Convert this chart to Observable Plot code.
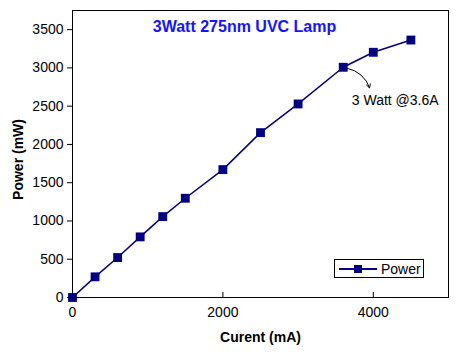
<!DOCTYPE html>
<html>
<head>
<meta charset="utf-8">
<script src="https://cdn.jsdelivr.net/npm/d3@7"></script>
<script src="https://cdn.jsdelivr.net/npm/@observablehq/plot@0.6"></script>
<style>
  html, body { margin: 0; padding: 0; background: #fff; }
  #wrap { position: relative; width: 466px; height: 356px; font-family: "Liberation Sans", Arial, sans-serif; }
  #legend { position: absolute; left: 334px; top: 259px; width: 90px; height: 19px; border: 1px solid #000; background: #fff; box-sizing: border-box; display: flex; align-items: center; font-size: 14px; color: #000; }
  #legend svg { margin-left: 4px; margin-right: 4px; }
</style>
</head>
<body>
<div id="wrap"></div>
<script>
const current = [0, 300, 600, 900, 1200, 1500, 2000, 2500, 3000, 3600, 4000, 4500];
const power   = [0, 270, 522, 792, 1057, 1297, 1671, 2154, 2529, 3008, 3204, 3364];
const xTicks = [0, 2000, 4000];
const yTicks = [0, 500, 1000, 1500, 2000, 2500, 3000, 3500];
const titleText = "3Watt 275nm UVC Lamp";
const xLabel = "Curent (mA)";
const yLabel = "Power (mW)";
const seriesName = "Power";
const noteText = ["3 Watt @3.6A"];
const noteFrom = [{x: 3600, y: 3000}];
const noteTo = [{x: 3950, y: 2740}];

const data = current.map((c, i) => ({current: c, power: power[i]}));
const navy = "#000080";

const chart = Plot.plot({
  width: 466,
  height: 356,
  marginLeft: 72,
  marginRight: 18,
  marginTop: 10,
  marginBottom: 59,
  style: {fontFamily: "Liberation Sans, Arial, sans-serif", fontSize: "14px", color: "#000", background: "#fff"},
  x: {domain: [0, 5000]},
  y: {domain: [0, 3750]},
  marks: [
    Plot.axisX({ticks: xTicks, tickSize: 0, tickPadding: 10, label: null, tickFormat: d => String(d), fontSize: 14}),
    Plot.ruleX(xTicks.filter(d => d > 0), {y1: 0, y2: 3750 * 5 / 287, stroke: "#000"}),
    Plot.axisY({ticks: yTicks, tickSize: 5, tickPadding: 4, label: null, tickFormat: d => String(d), fontSize: 14}),
    Plot.frame({stroke: "#000", strokeWidth: 1}),
    Plot.line(data, {x: "current", y: "power", stroke: navy, strokeWidth: 1.5}),
    Plot.dot(data, {x: "current", y: "power", symbol: "square", r: 5, fill: navy, stroke: "none"}),
    Plot.arrow(noteFrom.map((f, i) => ({x1: f.x, y1: f.y, x2: noteTo[i].x, y2: noteTo[i].y})), {
      x1: "x1", y1: "y1", x2: "x2", y2: "y2", bend: 35, headLength: 6, stroke: "#000", strokeWidth: 1, insetStart: 4
    }),
    Plot.text(noteText, {x: () => noteFrom[0].x, y: () => noteFrom[0].y, text: d => d, dx: 52, dy: 33, fontSize: 14, fill: "#000"}),
    Plot.text([titleText], {frameAnchor: "top", text: d => d, dx: -16, dy: 16.5, lineAnchor: "middle", fontSize: 16, fontWeight: "bold", fill: "#1414ff"}),
    Plot.text([xLabel], {frameAnchor: "bottom", text: d => d, dy: 40, lineAnchor: "middle", fontSize: 14, fontWeight: "bold", fill: "#000", style: "letter-spacing:0.5px"}),
    Plot.text([yLabel], {frameAnchor: "left", text: d => d, dx: -54, dy: 5.5, rotate: -90, textAnchor: "middle", lineAnchor: "middle", fontSize: 14, fontWeight: "bold", fill: "#000", style: "letter-spacing:0.3px"})
  ]
});

const wrap = document.getElementById("wrap");
wrap.appendChild(chart);
const legend = document.createElement("div");
legend.id = "legend";
legend.innerHTML = `<svg width="38" height="10"><line x1="0" y1="5" x2="38" y2="5" stroke="${navy}" stroke-width="2"/><rect x="15" y="1" width="8" height="8" fill="${navy}"/></svg><span>${seriesName}</span>`;
wrap.appendChild(legend);
</script>
</body>
</html>
